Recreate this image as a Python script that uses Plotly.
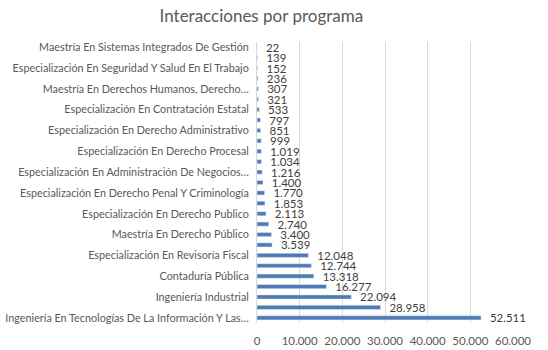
import plotly.graph_objects as go

# Categories listed top to bottom (as in the reference); only every other name is shown
programas = [
    "Maestría En Sistemas Integrados De Gestión",
    "Programa (sin etiqueta) 2",
    "Especialización En Seguridad Y Salud En El Trabajo",
    "Programa (sin etiqueta) 4",
    "Maestría En Derechos Humanos, Derecho…",
    "Programa (sin etiqueta) 6",
    "Especialización En Contratación Estatal",
    "Programa (sin etiqueta) 8",
    "Especialización En Derecho Administrativo",
    "Programa (sin etiqueta) 10",
    "Especialización En Derecho Procesal",
    "Programa (sin etiqueta) 12",
    "Especialización En Administración De Negocios…",
    "Programa (sin etiqueta) 14",
    "Especialización En Derecho Penal Y Criminología",
    "Programa (sin etiqueta) 16",
    "Especialización En Derecho Publico",
    "Programa (sin etiqueta) 18",
    "Maestría En Derecho Público",
    "Programa (sin etiqueta) 20",
    "Especialización En Revisoría Fiscal",
    "Programa (sin etiqueta) 22",
    "Contaduría Pública",
    "Programa (sin etiqueta) 24",
    "Ingeniería Industrial",
    "Programa (sin etiqueta) 26",
    "Ingeniería En Tecnologías De La Información Y Las…",
]
interacciones = [22, 139, 152, 236, 307, 321, 533, 797, 851, 999, 1019, 1034, 1216,
                 1400, 1770, 1853, 2113, 2740, 3400, 3539, 12048, 12744, 13318,
                 16277, 22094, 28958, 52511]
etiquetas_visibles = programas[::2]
x_ticks = [0, 10000, 20000, 30000, 40000, 50000, 60000]

txt = "#595959"
fig = go.Figure(go.Bar(
    y=programas, x=interacciones, orientation="h",
    marker=dict(color="#4F7BB5"),
    text=["   " + f"{v:,}".replace(",", ".") for v in interacciones],
    textposition="outside", cliponaxis=False, constraintext="none",
    textfont=dict(family="Lato", size=11.5, color="#404040"),
))
fig.update_layout(
    width=548, height=350,
    margin=dict(l=257, r=35, t=42, b=27),
    paper_bgcolor="white", plot_bgcolor="white",
    separators=",.",
    bargap=0.6,
    showlegend=False,
    font=dict(family="Lato", size=11, color=txt),
    title=dict(text="Interacciones por programa", x=0.477, xanchor="center",
               y=0.955, yanchor="middle",
               font=dict(family="Lato", size=17, color=txt)),
)
fig.update_xaxes(range=[0, 60000], tickvals=x_ticks, tickformat=",d",
                 showgrid=True, gridcolor="#D9D9D9", gridwidth=1,
                 zeroline=False, showline=False, automargin=False,
                 ticks="outside", ticklen=7, tickcolor="rgba(0,0,0,0)",
                 tickfont=dict(family="Lato", size=11.5, color=txt), fixedrange=True)
fig.update_yaxes(autorange="reversed", tickmode="array",
                 tickvals=etiquetas_visibles, ticktext=etiquetas_visibles,
                 showline=True, linecolor="#D9D9D9", linewidth=1, automargin=False,
                 ticks="outside", ticklen=5, tickcolor="rgba(0,0,0,0)",
                 tickfont=dict(family="Lato", size=10.8, color=txt))
fig.write_html("out.html")
